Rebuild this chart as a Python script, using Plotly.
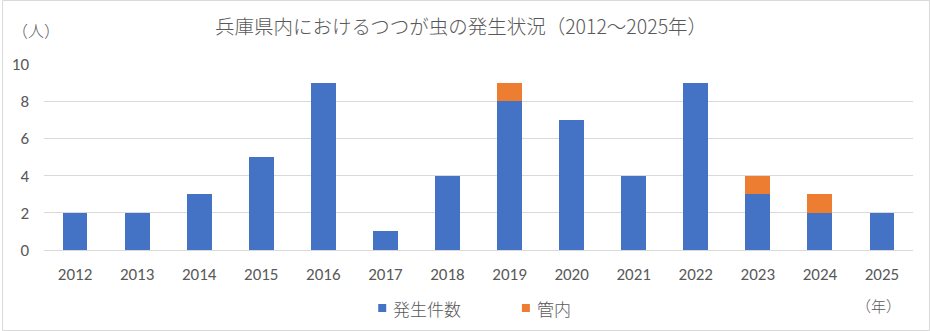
import plotly.graph_objects as go

# Annual tsutsugamushi cases in Hyogo (2012-2025)
years = ["2012", "2013", "2014", "2015", "2016", "2017", "2018",
         "2019", "2020", "2021", "2022", "2023", "2024", "2025"]
cases = [2, 2, 3, 5, 9, 1, 4, 8, 7, 4, 9, 3, 2, 2]
local = [0, 0, 0, 0, 0, 0, 0, 1, 0, 0, 0, 1, 1, 0]
series_names = ["発生件数", "管内"]

BLUE = "#4472C4"
ORANGE = "#ED7D31"
TEXT = "#595959"
GRID = "#D9D9D9"
FONT = "Noto Sans CJK JP"
NUMFONT = "Carlito, Calibri, Liberation Sans"
THIN = 300

W, H = 930, 331
L, R, T, B = 42, 17, 64, 81
pw, ph = W - L - R, H - T - B

def px(x):
    return (x - L) / pw

def py(y):
    return (H - B - y) / ph

fig = go.Figure()
fig.add_trace(go.Bar(x=years, y=cases, name=series_names[0], marker_color=BLUE,
                     marker_line_width=0, showlegend=False))
fig.add_trace(go.Bar(x=years, y=local, name=series_names[1], marker_color=ORANGE,
                     marker_line_width=0, showlegend=False))

# Legend drawn as small square swatches followed by labels
legend_shapes = []
legend_notes = []
for (sx, color, name) in [(377, BLUE, series_names[0]), (521, ORANGE, series_names[1])]:
    legend_shapes.append(dict(type="rect", xref="paper", yref="paper",
                              x0=px(sx), x1=px(sx + 8), y0=py(312), y1=py(304),
                              line=dict(width=0), fillcolor=color))
    legend_notes.append(dict(text=name, xref="paper", yref="paper",
                             x=px(sx + 13), y=py(308), xanchor="left", yanchor="middle",
                             showarrow=False,
                             font=dict(size=17, color=TEXT, family=FONT, weight=THIN)))

fig.update_layout(
    width=W, height=H,
    margin=dict(l=L, r=R, t=T, b=B),
    barmode="stack",
    bargap=0.6,
    plot_bgcolor="white",
    paper_bgcolor="white",
    showlegend=False,
    font=dict(family=FONT, color=TEXT, size=12),
    title=dict(text="兵庫県内におけるつつが虫の発生状況（2012～2025年）",
               x=461 / W, xref="container", xanchor="center",
               y=1 - 27.5 / H, yref="container", yanchor="middle",
               font=dict(size=19.5, color=TEXT, family=FONT, weight=THIN)),
    xaxis=dict(showgrid=False, showline=True, linecolor=GRID, linewidth=1,
               ticks="", ticklabelstandoff=9,
               tickfont=dict(size=17, color=TEXT, family=NUMFONT),
               fixedrange=True),
    yaxis=dict(range=[0, 10], dtick=2, showgrid=True, gridcolor=GRID,
               gridwidth=1, zeroline=False, showline=False, ticks="",
               ticklabelstandoff=14,
               tickfont=dict(size=17, color=TEXT, family=NUMFONT),
               fixedrange=True),
    annotations=[
        dict(text="（人）", xref="paper", yref="paper", x=px(8), y=py(30),
             xanchor="left", yanchor="middle", showarrow=False,
             font=dict(size=16, color=TEXT, family=FONT, weight=THIN)),
        dict(text="（年）", xref="paper", yref="paper", x=px(854), y=py(305),
             xanchor="left", yanchor="middle", showarrow=False,
             font=dict(size=15, color=TEXT, family=FONT, weight=THIN)),
    ] + legend_notes,
    shapes=[
        dict(type="rect", xref="paper", yref="paper",
             x0=px(0.5), x1=px(W - 0.5), y0=py(H - 0.5), y1=py(0.5),
             line=dict(color=GRID, width=1), fillcolor="rgba(0,0,0,0)",
             layer="below"),
    ] + legend_shapes,
)

fig.write_html("out.html")
